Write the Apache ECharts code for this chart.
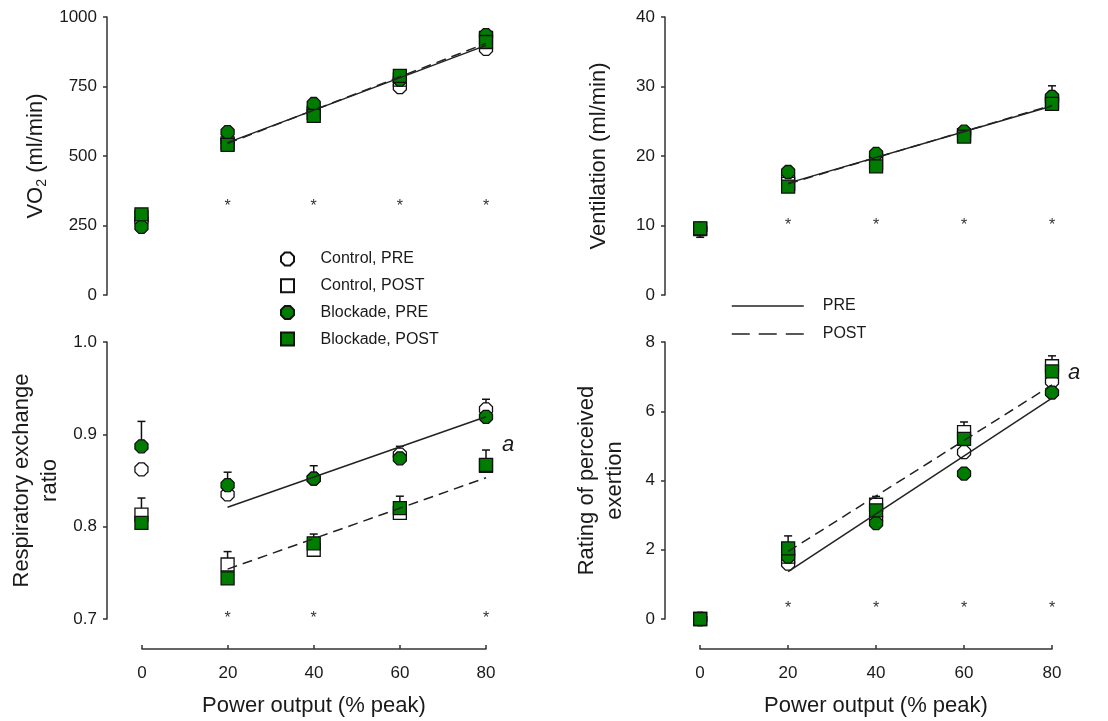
<!DOCTYPE html>
<html>
<head>
<meta charset="utf-8">
<script src="https://cdn.jsdelivr.net/npm/echarts@6/dist/echarts.min.js"></script>
<style>
html,body{margin:0;padding:0;background:#fff;}
#main{width:1108px;height:721px;}
</style>
</head>
<body>
<div id="main"></div>
<script>
// ---------- data ----------
const powerX = [0, 20, 40, 60, 80];
const lineX = [20, 80];

// VO2 (ml/min)
const vo2CtrlPre  = [270, 555, 665, 748, 885];
const vo2CtrlPost = [280, 545, 655, 775, 925];
const vo2BlkPre   = [245, 586, 687, 775, 935];
const vo2BlkPost  = [290, 540, 644, 788, 910];
const vo2LinePre  = [548, 898];
const vo2LinePost = [545, 905];
const vo2Err      = [[80, 935, 952]];
const vo2Stars    = [[20, 331], [40, 331], [60, 331], [80, 331]];

// Ventilation (ml/min)
const veCtrlPre  = [9.5, 16.8, 20.0, 23.2, 28.0];
const veCtrlPost = [9.5, 16.0, 19.0, 23.0, 27.8];
const veBlkPre   = [9.5, 17.7, 20.3, 23.5, 28.5];
const veBlkPost  = [9.6, 15.6, 18.5, 22.8, 27.5];
const veLinePre  = [16.1, 27.2];
const veLinePost = [16.0, 27.3];
const veErr      = [[80, 28.5, 30.1], [0, 9.5, 8.3]];
const veStars    = [[20, 10.5], [40, 10.5], [60, 10.5], [80, 10.5]];

// Respiratory exchange ratio
const rerCtrlPre  = [0.862, 0.835, 0.852, 0.878, 0.927];
const rerCtrlPost = [0.813, 0.759, 0.775, 0.815, 0.866];
const rerBlkPre   = [0.887, 0.845, 0.852, 0.874, 0.919];
const rerBlkPost  = [0.804, 0.744, 0.782, 0.820, 0.867];
const rerLinePre  = [0.821, 0.919];
const rerLinePost = [0.754, 0.853];
const rerErr = [[0, 0.887, 0.914], [0, 0.813, 0.831], [20, 0.845, 0.859], [20, 0.759, 0.773],
                [40, 0.852, 0.866], [40, 0.782, 0.792], [60, 0.878, 0.887], [60, 0.815, 0.833],
                [80, 0.927, 0.938], [80, 0.867, 0.883]];
const rerStars = [[20, 0.705], [40, 0.705], [80, 0.705]];
const rerNote  = [[80, 0.889, 'a']];

// Rating of perceived exertion
const rpeCtrlPre  = [0, 1.6, 2.9, 4.82, 6.86];
const rpeCtrlPost = [0, 1.8, 3.3, 5.4, 7.3];
const rpeBlkPre   = [0, 1.8, 2.77, 4.2, 6.54];
const rpeBlkPost  = [0, 2.04, 3.14, 5.2, 7.15];
const rpeLinePre  = [1.37, 6.38];
const rpeLinePost = [1.95, 6.76];
const rpeErr   = [[20, 2.04, 2.4], [40, 3.14, 3.54], [60, 5.4, 5.69], [80, 7.3, 7.6]];
const rpeStars = [[20, 0.42], [40, 0.42], [60, 0.42], [80, 0.42]];
const rpeNote  = [[80, 7.11, 'a']];

const seriesNames = ['Control, PRE', 'Control, POST', 'Blockade, PRE', 'Blockade, POST'];
const lineNames = ['PRE', 'POST'];

// ---------- styling ----------
const FONT = 'Liberation Sans, Arial, sans-serif';
const TXT = '#1a1a1a';
const AX = '#333';
const GREEN = '#007d00';
const OCT = 'path://M30,0 L70,0 L100,30 L100,70 L70,100 L30,100 L0,70 L0,30 Z';
const SQ = 'path://M0,0 L100,0 L100,100 L0,100 Z';
const fills = ['#ffffff', '#ffffff', GREEN, GREEN];
const syms = [OCT, SQ, OCT, SQ];

function pts(vals) { return powerX.map((x, i) => [x, vals[i]]); }
function linePts(vals) { return lineX.map((x, i) => [x, vals[i]]); }

const panels = [
  {ctrlPre: vo2CtrlPre, ctrlPost: vo2CtrlPost, blkPre: vo2BlkPre, blkPost: vo2BlkPost,
   linePre: vo2LinePre, linePost: vo2LinePost, err: vo2Err, stars: vo2Stars, note: []},
  {ctrlPre: veCtrlPre, ctrlPost: veCtrlPost, blkPre: veBlkPre, blkPost: veBlkPost,
   linePre: veLinePre, linePost: veLinePost, err: veErr, stars: veStars, note: []},
  {ctrlPre: rerCtrlPre, ctrlPost: rerCtrlPost, blkPre: rerBlkPre, blkPost: rerBlkPost,
   linePre: rerLinePre, linePost: rerLinePost, err: rerErr, stars: rerStars, note: rerNote},
  {ctrlPre: rpeCtrlPre, ctrlPost: rpeCtrlPost, blkPre: rpeBlkPre, blkPost: rpeBlkPost,
   linePre: rpeLinePre, linePost: rpeLinePost, err: rpeErr, stars: rpeStars, note: rpeNote}
];

const grid = [
  {left: 107, top: 17, width: 379, height: 278},
  {left: 665, top: 17, width: 387, height: 278},
  {left: 107, top: 342, width: 379, height: 277},
  {left: 665, top: 342, width: 387, height: 277},
  {left: 142, top: 629, width: 344, height: 20},
  {left: 700, top: 629, width: 352, height: 20}
].map(g => Object.assign({outerBoundsMode: 'none', containLabel: false}, g));

const xAxis = [];
for (let i = 0; i < 4; i++) {
  xAxis.push({type: 'value', gridIndex: i, min: -8, max: 80, show: false});
}
for (let i = 4; i < 6; i++) {
  xAxis.push({
    type: 'value', gridIndex: i, min: 0, max: 80, interval: 20, position: 'bottom',
    axisLine: {show: true, onZero: false, lineStyle: {color: AX, width: 1.5}},
    axisTick: {show: true, inside: true, length: 4, lineStyle: {color: AX, width: 1.5}},
    axisLabel: {color: TXT, fontSize: 17, fontFamily: FONT, margin: 16},
    splitLine: {show: false},
    name: 'Power output (% peak)', nameLocation: 'middle', nameGap: 46,
    nameTextStyle: {color: TXT, fontSize: 22, fontFamily: FONT}
  });
}

function yAx(gi, min, max, interval, name, gap, extra) {
  return Object.assign({
    type: 'value', gridIndex: gi, min: min, max: max, interval: interval,
    axisLine: {show: true, onZero: false, lineStyle: {color: AX, width: 1.5}},
    axisTick: {show: true, inside: false, length: 4, lineStyle: {color: AX, width: 1.5}},
    axisLabel: {color: TXT, fontSize: 17, fontFamily: FONT, margin: 10, formatter: v => String(v)},
    splitLine: {show: false},
    name: name, nameLocation: 'middle', nameGap: gap,
    nameTextStyle: {color: TXT, fontSize: 22, fontFamily: FONT, lineHeight: 28}
  }, extra || {});
}

const yAxis = [
  yAx(0, 0, 1000, 250, '{a|VO}{s|2}{a| (ml/min)}', 58, {
    nameTextStyle: {color: TXT, fontSize: 22, fontFamily: FONT,
      rich: {a: {fontSize: 22, fontFamily: FONT, color: TXT},
             s: {fontSize: 14, fontFamily: FONT, color: TXT, padding: [12, 0, 0, 0]}}}
  }),
  yAx(1, 0, 40, 10, 'Ventilation (ml/min)', 52),
  yAx(2, 0.7, 1.0, 0.1, 'Respiratory exchange\nratio', 43, {
    axisLabel: {color: TXT, fontSize: 17, fontFamily: FONT, margin: 10, formatter: v => v.toFixed(1)}
  }),
  yAx(3, 0, 8, 2, 'Rating of perceived\nexertion', 36),
  {type: 'value', gridIndex: 4, min: 0, max: 1, show: false},
  {type: 'value', gridIndex: 5, min: 0, max: 1, show: false}
];

const series = [];
panels.forEach((p, gi) => {
  // error bars
  series.push({
    type: 'custom', xAxisIndex: gi, yAxisIndex: gi, z: 2, silent: true,
    data: p.err,
    encode: {x: 0, y: [1, 2]},
    renderItem: function (params, api) {
      const x = api.value(0);
      const a = api.coord([x, api.value(1)]);
      const b = api.coord([x, api.value(2)]);
      const st = {stroke: '#111', lineWidth: 1.5};
      return {type: 'group', children: [
        {type: 'line', shape: {x1: a[0], y1: a[1], x2: b[0], y2: b[1]}, style: st},
        {type: 'line', shape: {x1: b[0] - 4, y1: b[1], x2: b[0] + 4, y2: b[1]}, style: st}
      ]};
    }
  });
  const groups = [p.ctrlPre, p.ctrlPost, p.blkPre, p.blkPost];
  groups.forEach((vals, k) => {
    series.push({
      type: 'scatter', name: seriesNames[k], xAxisIndex: gi, yAxisIndex: gi, z: 3 + k * 0.1,
      symbol: syms[k], symbolSize: 13, symbolKeepAspect: true,
      itemStyle: {color: fills[k], borderColor: '#111', borderWidth: 1.3, opacity: 1},
      emphasis: {disabled: true},
      data: pts(vals)
    });
  });
  series.push({
    type: 'line', name: lineNames[0], xAxisIndex: gi, yAxisIndex: gi, z: 5,
    symbol: 'none', showSymbol: false, color: '#222',
    lineStyle: {color: '#222', width: 1.5, type: 'solid'},
    data: linePts(p.linePre), silent: true
  });
  series.push({
    type: 'line', name: lineNames[1], xAxisIndex: gi, yAxisIndex: gi, z: 5,
    symbol: 'none', showSymbol: false, color: '#222',
    lineStyle: {color: '#222', width: 1.5, type: [10, 6]},
    data: linePts(p.linePost), silent: true
  });
  // significance stars
  series.push({
    type: 'custom', xAxisIndex: gi, yAxisIndex: gi, z: 6, silent: true,
    data: p.stars,
    renderItem: function (params, api) {
      const c = api.coord([api.value(0), api.value(1)]);
      return {type: 'text', x: c[0], y: c[1] + 4,
        style: {text: '*', fill: '#333', font: '16px ' + FONT, align: 'center', verticalAlign: 'middle'}};
    }
  });
  if (p.note.length) {
    series.push({
      type: 'custom', xAxisIndex: gi, yAxisIndex: gi, z: 6, silent: true,
      data: p.note,
      dimensions: ['x', 'y', {name: 't', type: 'ordinal'}],
      renderItem: function (params, api) {
        const c = api.coord([api.value(0), api.value(1)]);
        return {type: 'text', x: c[0] + 22, y: c[1],
          style: {text: p.note[params.dataIndex][2], fill: TXT, font: 'italic 22px ' + FONT,
                  align: 'center', verticalAlign: 'middle'}};
      }
    });
  }
});

const hiddenMark = {color: 'rgba(0,0,0,0)', borderColor: 'rgba(0,0,0,0)', borderWidth: 0};

const option = {
  backgroundColor: '#ffffff',
  animation: false,
  grid: grid,
  xAxis: xAxis,
  yAxis: yAxis,
  legend: [
    {
      left: 275, top: 246, orient: 'vertical', selectedMode: false,
      itemWidth: 56, itemHeight: 13, itemGap: 10.7, symbolKeepAspect: true,
      textStyle: {color: TXT, fontSize: 16, fontFamily: FONT},
      data: [
        {name: seriesNames[0], icon: OCT},
        {name: seriesNames[1], icon: SQ},
        {name: seriesNames[2], icon: OCT},
        {name: seriesNames[3], icon: SQ}
      ]
    },
    {
      left: 726, top: 293, orient: 'vertical', selectedMode: false,
      itemWidth: 72, itemHeight: 14, itemGap: 12,
      textStyle: {color: TXT, fontSize: 16, fontFamily: FONT, padding: [0, 0, 0, 14]},
      data: [
        {name: lineNames[0], itemStyle: hiddenMark,
         lineStyle: {type: 'solid', color: '#222', width: 1.5}},
        {name: lineNames[1], itemStyle: hiddenMark,
         lineStyle: {type: [18, 9], color: '#222', width: 1.5}}
      ]
    }
  ],
  series: series
};

const chart = echarts.init(document.getElementById('main'), null, {renderer: 'canvas'});
chart.setOption(option);
</script>
</body>
</html>
